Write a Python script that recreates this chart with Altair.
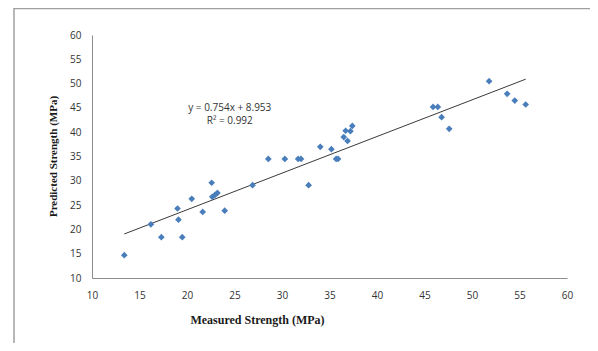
import altair as alt
import pandas as pd

measured = [13.4, 16.2, 17.3, 19.0, 19.1, 19.5, 20.5, 21.65, 22.6, 22.66, 22.95, 23.2,
            23.97, 26.9, 28.56, 30.3, 31.7, 32.0, 32.8, 34.03, 35.2, 35.7, 35.9,
            36.5, 36.7, 36.9, 37.2, 37.4, 45.9, 46.4, 46.8, 47.6, 51.8, 53.7, 54.5, 55.65]
predicted = [14.7, 21.05, 18.4, 24.3, 22.0, 18.4, 26.3, 23.6, 29.6, 26.7, 27.1, 27.5,
             23.85, 29.1, 34.5, 34.5, 34.5, 34.5, 29.1, 37.0, 36.5, 34.5, 34.5,
             39.0, 40.3, 38.2, 40.2, 41.3, 45.2, 45.2, 43.1, 40.7, 50.5, 47.9, 46.5, 45.7]

trend_x = [13.4, 55.65]
trend_y = [19.06, 50.91]

eq_labels = ["y = 0.754x + 8.953", "R\u00b2 = 0.992"]
eq_x = [24.5, 24.5]
eq_y = [45.0, 42.4]

x_ticks = [10, 15, 20, 25, 30, 35, 40, 45, 50, 55, 60]
y_ticks = [10, 15, 20, 25, 30, 35, 40, 45, 50, 55, 60]

pts = pd.DataFrame({"m": measured, "p": predicted})
trend = pd.DataFrame({"m": trend_x, "p": trend_y})
eq = pd.DataFrame({"m": eq_x, "p": eq_y, "t": eq_labels})

xs = alt.Scale(domain=[10, 60], nice=False)
ys = alt.Scale(domain=[10, 60], nice=False)

x_axis = alt.Axis(values=x_ticks, grid=False, ticks=False, labelPadding=12,
                  labelOverlap=False, labelFlush=False,
                  title="Measured Strength (MPa)", titleX=165, titleY=41,
                  titleBaseline="middle", titleAnchor="start", titleAlign="center")
y_axis = alt.Axis(values=y_ticks, grid=False, ticks=False, labelPadding=11,
                  labelOverlap=False, labelFlush=False,
                  title="Predicted Strength (MPa)", titleX=-39, titleY=121,
                  titleAngle=-90, titleBaseline="middle", titleAlign="center")

X = alt.X("m:Q", scale=xs, axis=x_axis)
Y = alt.Y("p:Q", scale=ys, axis=y_axis)

points = alt.Chart(pts).mark_point(shape="diamond", filled=True, size=45,
                                   color="#4A7EBB", opacity=1).encode(x=X, y=Y)

line = alt.Chart(trend).mark_line(color="#3a3a3a", strokeWidth=1).encode(x=X, y=Y)

text = alt.Chart(eq).mark_text(font="Open Sans", fontSize=10, color="#333333",
                               align="center", baseline="middle").encode(
    x=X, y=Y, text="t:N")

frame = alt.Chart(pd.DataFrame({"a": [0]})).mark_rect(
    fill=None, stroke="#a0a0a0", strokeWidth=1.5, clip=False).encode(
    x=alt.value(-78), x2=alt.value(530), y=alt.value(-26.5), y2=alt.value(340))

chart = alt.layer(frame, line, points, text).properties(
    width=475, height=243,
    autosize=alt.AutoSizeParams(type="none"),
    padding={"left": 84, "top": 27, "right": 23, "bottom": 65},
).configure_view(stroke=None).configure_axis(
    domainColor="#8c8c8c", domainWidth=1,
    labelFont="Open Sans", labelFontSize=10, labelColor="#333333",
    labelOverlap=False,
    titleFont="Liberation Serif", titleFontWeight="bold", titleColor="#1a1a1a",
).configure_axisX(titleFontSize=12).configure_axisY(titleFontSize=11)

chart.save("out.html", embed_options={"renderer": "svg", "actions": False})
